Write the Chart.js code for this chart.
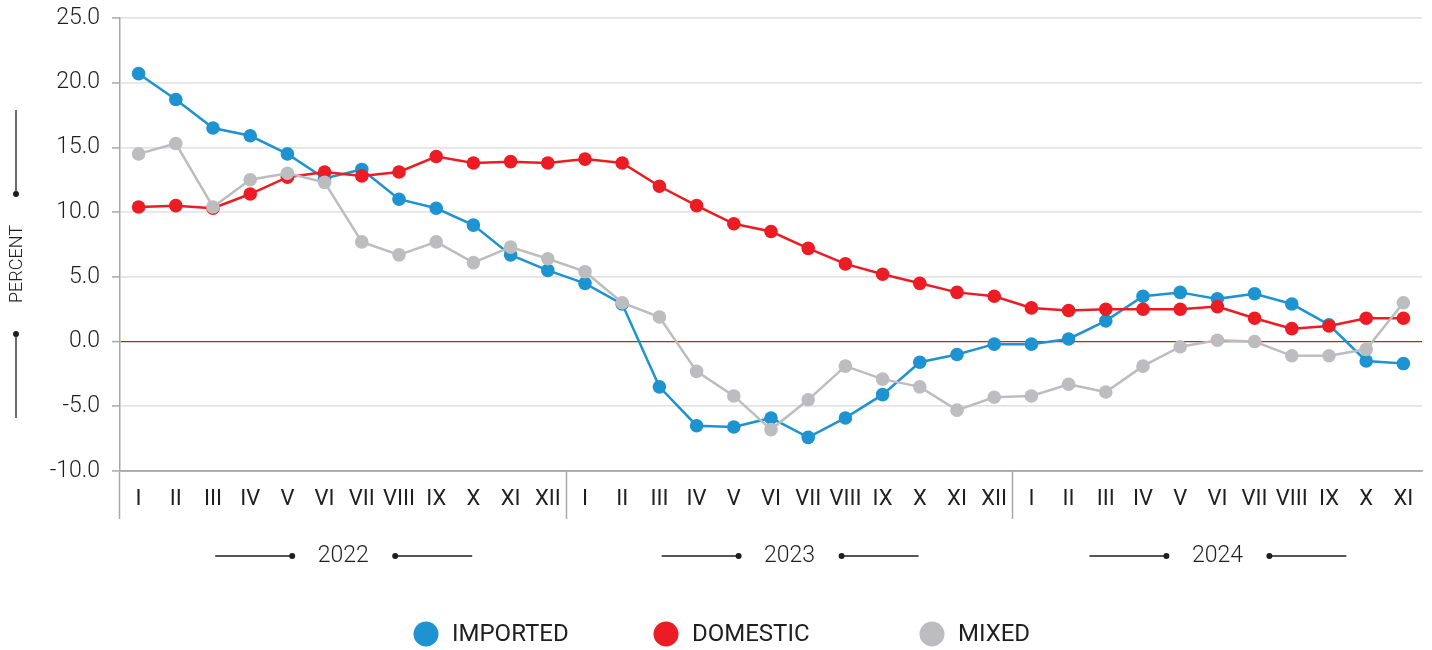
<!DOCTYPE html>
<html>
<head>
<meta charset="utf-8">
<script src="https://cdn.jsdelivr.net/npm/chart.js@4.4.0/dist/chart.umd.min.js"></script>
<style>
  html, body { margin: 0; padding: 0; background: #fff; }
  #wrap { width: 1432px; height: 650px; position: relative; }
</style>
</head>
<body>
<div id="wrap"><canvas id="priceChart" width="1432" height="650"></canvas></div>
<script>
// 월 (로마 숫자) 레이블
const months = ['I', 'II', 'III', 'IV', 'V', 'VI', 'VII', 'VIII', 'IX', 'X', 'XI', 'XII',
                'I', 'II', 'III', 'IV', 'V', 'VI', 'VII', 'VIII', 'IX', 'X', 'XI', 'XII',
                'I', 'II', 'III', 'IV', 'V', 'VI', 'VII', 'VIII', 'IX', 'X', 'XI'];
const years = ['2022', '2023', '2024'];
const yearStart = [0, 12, 24];
const yearEnd = [11, 23, 34];

const seriesNames = ['IMPORTED', 'DOMESTIC', 'MIXED'];
const imported = [20.7, 18.7, 16.5, 15.9, 14.5, 12.6, 13.3, 11.0, 10.3, 9.0, 6.7, 5.5,
                  4.5, 2.9, -3.5, -6.5, -6.6, -5.9, -7.4, -5.9, -4.1, -1.6, -1.0, -0.2,
                  -0.2, 0.2, 1.6, 3.5, 3.8, 3.3, 3.7, 2.9, 1.3, -1.5, -1.7];
const domestic = [10.4, 10.5, 10.3, 11.4, 12.7, 13.1, 12.8, 13.1, 14.3, 13.8, 13.9, 13.8,
                  14.1, 13.8, 12.0, 10.5, 9.1, 8.5, 7.2, 6.0, 5.2, 4.5, 3.8, 3.5,
                  2.6, 2.4, 2.5, 2.5, 2.5, 2.7, 1.8, 1.0, 1.2, 1.8, 1.8];
const mixed = [14.5, 15.3, 10.4, 12.5, 13.0, 12.3, 7.7, 6.7, 7.7, 6.1, 7.3, 6.4,
               5.4, 3.0, 1.9, -2.3, -4.2, -6.8, -4.5, -1.9, -2.9, -3.5, -5.3, -4.3,
               -4.2, -3.3, -3.9, -1.9, -0.4, 0.1, 0.0, -1.1, -1.1, -0.6, 3.0];

const colors = ['#1e93d2', '#ec1c24', '#bdbdbf'];
const FONT = 'Roboto';
const TEXT = '#1f1f1f';

// 연도 레이블, PERCENT 제목, 범례 그리기
const decorPlugin = {
    id: 'decor',
    afterDraw(chart) {
        const ctx = chart.ctx;
        const x = chart.scales.x;
        ctx.save();
        ctx.fillStyle = TEXT;
        ctx.strokeStyle = TEXT;
        ctx.lineWidth = 1.3;

        // 연도
        ctx.font = '300 23px ' + FONT;
        ctx.textAlign = 'center';
        ctx.textBaseline = 'middle';
        const yy = 556;
        years.forEach((yr, i) => {
            const cx = (x.getPixelForValue(yearStart[i]) + x.getPixelForValue(yearEnd[i])) / 2;
            ctx.fillText(yr, cx, yy);
            ctx.beginPath();
            ctx.moveTo(cx - 128, yy); ctx.lineTo(cx - 51, yy);
            ctx.moveTo(cx + 52, yy); ctx.lineTo(cx + 129, yy);
            ctx.stroke();
            ctx.beginPath(); ctx.arc(cx - 51, yy, 3, 0, Math.PI * 2); ctx.fill();
            ctx.beginPath(); ctx.arc(cx + 52, yy, 3, 0, Math.PI * 2); ctx.fill();
        });

        // Y축 제목
        const tx = 16, ty = 264;
        ctx.save();
        ctx.translate(tx, ty);
        ctx.rotate(-Math.PI / 2);
        ctx.font = '300 18px ' + FONT;
        ctx.fillText('PERCENT', 0, 1);
        ctx.restore();
        ctx.beginPath();
        ctx.moveTo(tx, 110); ctx.lineTo(tx, 194);
        ctx.moveTo(tx, 334); ctx.lineTo(tx, 418);
        ctx.stroke();
        ctx.beginPath(); ctx.arc(tx, 194, 3, 0, Math.PI * 2); ctx.fill();
        ctx.beginPath(); ctx.arc(tx, 334, 3, 0, Math.PI * 2); ctx.fill();

        // 범례
        const legendX = [426, 666, 932];
        const ly = 634;
        ctx.font = '24px ' + FONT;
        ctx.textAlign = 'left';
        seriesNames.forEach((name, i) => {
            ctx.fillStyle = colors[i];
            ctx.beginPath(); ctx.arc(legendX[i], ly, 12.5, 0, Math.PI * 2); ctx.fill();
            ctx.fillStyle = TEXT;
            ctx.fillText(name, legendX[i] + 26, ly + 1);
        });
        ctx.restore();
    }
};

function makeSet(label, data, color, order) {
    return {
        label: label,
        data: data,
        borderColor: color,
        backgroundColor: color,
        pointBackgroundColor: color,
        pointBorderWidth: 0,
        pointRadius: 6.8,
        pointHoverRadius: 6.8,
        borderWidth: 2.5,
        tension: 0,
        order: order
    };
}

new Chart(document.getElementById('priceChart').getContext('2d'), {
    type: 'line',
    data: {
        labels: months,
        datasets: [
            makeSet(seriesNames[0], imported, colors[0], 3),
            makeSet(seriesNames[1], domestic, colors[1], 2),
            makeSet(seriesNames[2], mixed, colors[2], 1)
        ]
    },
    options: {
        responsive: false,
        animation: false,
        layout: { padding: { top: 18, right: 10, bottom: 129, left: 0 } },
        plugins: { legend: { display: false }, tooltip: { enabled: false } },
        scales: {
            x: {
                offset: true,
                afterFit: s => { s.height = 50; s.paddingLeft = 0; s.paddingRight = 0; },
                border: { display: true, color: '#a8a8a8', width: 1.5 },
                grid: {
                    offset: true,
                    drawOnChartArea: false,
                    tickLength: 48,
                    tickWidth: 1.5,
                    tickColor: c => (c.index % 12 === 0 || c.index === months.length) ? '#a8a8a8' : 'rgba(0,0,0,0)'
                },
                ticks: {
                    autoSkip: false,
                    maxRotation: 0,
                    padding: -33,
                    color: TEXT,
                    font: { family: FONT, size: 22, weight: 400 }
                }
            },
            y: {
                min: -10,
                max: 25,
                afterFit: s => { s.width = 120; s.paddingTop = 0; s.paddingBottom = 0; },
                border: { display: true, color: '#a8a8a8', width: 1.5 },
                grid: {
                    tickLength: 8,
                    color: c => c.tick.value === 0 ? '#b3262b' : (c.tick.value === -10 ? '#a8a8a8' : '#e4e4e4'),
                    lineWidth: c => c.tick.value === 0 ? 1.2 : 1.8,
                    tickColor: '#a8a8a8',
                    tickWidth: 1.5
                },
                ticks: {
                    stepSize: 5,
                    padding: 12,
                    color: TEXT,
                    font: { family: FONT, size: 23, weight: 300 },
                    callback: v => v.toFixed(1)
                }
            }
        }
    },
    plugins: [decorPlugin]
});
</script>
</body>
</html>
